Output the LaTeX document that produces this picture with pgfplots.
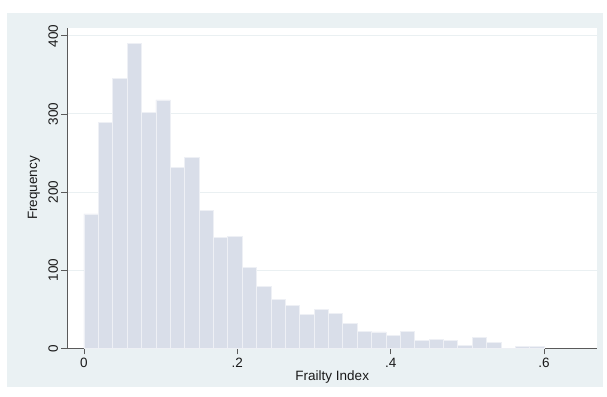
\documentclass[border=0pt]{standalone}
\usepackage{pgfplots}
\pgfplotsset{compat=1.18}
\usepackage{fontspec}
\setmainfont{Liberation Sans}
\definecolor{bg}{RGB}{234,241,243}
\definecolor{barfill}{RGB}{217,222,233}
\definecolor{gridc}{RGB}{234,240,242}
\definecolor{axisc}{RGB}{90,90,90}
\begin{document}
\begin{tikzpicture}[x=1bp,y=1bp]
\fill[white] (-67.5,-47.7) rectangle (539.5,348.3);
\fill[bg] (-60.5,-38.7) rectangle (535.5,335.3);
\begin{axis}[
  at={(0,0)}, anchor=south west,
  scale only axis, width=529.5bp, height=320.8bp,
  xmin=-0.0215, xmax=0.669, ymin=0, ymax=410.7,
  axis background/.style={fill=white},
  axis x line*=bottom, axis y line*=left,
  axis line style={axisc, line width=0.8bp, -},
  xtick={0,0.2,0.4,0.6}, xticklabels={0,.2,.4,.6},
  ytick={0,100,200,300,400}, yticklabels={0,100,200,300,400},
  tick align=outside, major tick length=6bp,
  tick style={axisc, line width=0.8bp},
  ticklabel style={font=\fontsize{13.5bp}{15bp}\selectfont, text=black!90},
  yticklabel style={rotate=90, anchor=south},
  ymajorgrids, major grid style={gridc, line width=1bp},
  xlabel={Frailty Index}, ylabel={Frequency},
  label style={font=\fontsize{13.5bp}{15bp}\selectfont, text=black!90},
  xlabel style={at={(axis description cs:0.5,-0.089)}, anchor=center},
  ylabel style={at={(axis description cs:-0.0633,0.5)}, anchor=center, rotate=0},
]
\addplot[ybar interval, fill=barfill, draw=white!55!barfill, line width=0.7bp] coordinates {
(0,172) (0.01875,289) (0.0375,346) (0.05625,390) (0.075,302) (0.09375,318)
(0.1125,232) (0.13125,244) (0.15,177) (0.16875,142) (0.1875,143) (0.20625,104)
(0.225,79) (0.24375,63) (0.2625,55) (0.28125,43) (0.3,50) (0.31875,45)
(0.3375,32) (0.35625,22) (0.375,21) (0.39375,16) (0.4125,22) (0.43125,10)
(0.45,11) (0.46875,10) (0.4875,4) (0.50625,14) (0.525,8) (0.54375,0)
(0.5625,2) (0.58125,2) (0.6,0)
};
\end{axis}
\end{tikzpicture}
\end{document}
